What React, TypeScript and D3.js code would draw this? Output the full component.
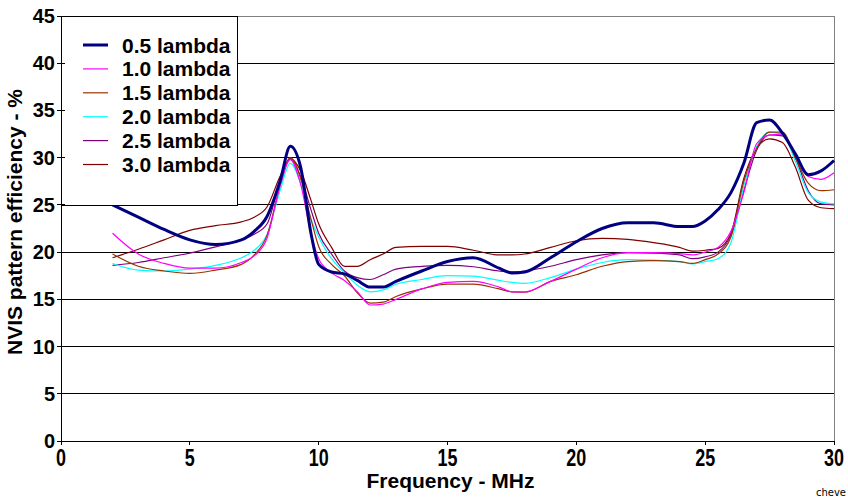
import React from 'react';
import * as d3 from 'd3';

const freqs = [2, 3, 4, 5, 6, 7, 7.5, 8, 8.5, 8.9, 9.3, 9.7, 10, 10.5, 11, 11.5, 12, 12.5, 13, 14, 15, 16, 17, 17.5, 18, 19, 20, 21, 22, 23, 24, 24.5, 25, 25.5, 26, 26.5, 27, 27.5, 28, 28.5, 29, 29.5, 30];

const lambda05 = [25.0, 23.7, 22.4, 21.3, 20.8, 21.3, 22.2, 23.8, 27.5, 31.2, 29.0, 22.0, 18.7, 17.9, 17.7, 17.0, 16.3, 16.3, 16.9, 18.0, 19.0, 19.4, 18.3, 17.8, 17.9, 19.4, 21.1, 22.5, 23.1, 23.1, 22.7, 22.7, 23.3, 24.5, 26.3, 29.4, 33.7, 34.0, 32.6, 30.4, 28.2, 28.6, 29.7];
const lambda10 = [22.0, 19.8, 18.8, 18.3, 18.3, 18.9, 19.6, 21.5, 27.0, 29.8, 27.2, 22.0, 19.3, 17.8, 17.0, 15.8, 14.4, 14.5, 15.0, 16.1, 16.8, 16.9, 16.3, 15.8, 15.8, 16.9, 18.2, 19.4, 19.95, 19.95, 19.85, 19.7, 20.0, 20.5, 22.2, 26.3, 31.5, 32.4, 32.5, 30.4, 28.0, 27.7, 28.4];
const lambda15 = [19.8, 18.5, 18.0, 17.75, 18.1, 18.7, 19.7, 21.8, 27.0, 30.0, 27.8, 23.5, 20.6, 18.7, 17.5, 15.7, 14.6, 14.7, 15.3, 16.1, 16.6, 16.6, 16.1, 15.8, 15.75, 16.9, 17.6, 18.5, 19.0, 19.1, 19.0, 18.8, 19.2, 19.8, 21.6, 27.5, 31.0, 32.7, 32.7, 30.0, 27.3, 26.5, 26.6];
const lambda20 = [18.8, 18.1, 18.0, 18.2, 18.6, 19.4, 20.2, 21.9, 26.5, 29.4, 27.3, 23.5, 21.6, 19.3, 17.8, 16.5, 15.8, 16.0, 16.6, 17.1, 17.5, 17.45, 17.0, 16.8, 16.7, 17.3, 18.2, 18.9, 19.2, 19.15, 19.0, 18.75, 19.0, 19.3, 21.0, 27.0, 31.2, 32.7, 32.5, 29.6, 26.3, 25.3, 25.1];
const lambda25 = [18.6, 18.9, 19.4, 19.9, 20.55, 21.3, 21.9, 23.0, 27.5, 29.9, 28.0, 24.5, 22.0, 19.8, 18.0, 17.3, 17.1, 17.6, 18.2, 18.5, 18.6, 18.45, 18.0, 17.9, 18.0, 18.5, 19.2, 19.7, 19.95, 19.9, 19.7, 19.3, 19.5, 20.0, 21.8, 26.5, 30.8, 32.4, 32.3, 30.0, 26.5, 25.1, 25.0];
const lambda30 = [19.4, 20.3, 21.3, 22.3, 22.8, 23.2, 23.7, 24.8, 28.0, 29.9, 28.6, 25.5, 23.0, 20.5, 18.5, 18.5, 19.2, 19.8, 20.5, 20.6, 20.6, 20.2, 19.7, 19.7, 19.8, 20.5, 21.2, 21.45, 21.35, 21.0, 20.5, 20.1, 20.2, 20.4, 22.0, 27.8, 31.0, 32.0, 31.6, 29.0, 25.5, 24.7, 24.6];

const seriesNames = ['0.5 lambda', '1.0 lambda', '1.5 lambda', '2.0 lambda', '2.5 lambda', '3.0 lambda'];
const seriesValues = [lambda05, lambda10, lambda15, lambda20, lambda25, lambda30];
const seriesColors = ['#000080', '#ff00ff', '#993300', '#00ffff', '#800080', '#800000'];

const xTicks = [0, 5, 10, 15, 20, 25, 30];
const yTicks = [0, 5, 10, 15, 20, 25, 30, 35, 40, 45];

const W = 848;
const H = 499;
const left = 61;
const right = 834;
const top = 16;
const bottom = 441;

const App = () => {
  const x = d3.scaleLinear().domain([0, 30]).range([left, right]);
  const y = d3.scaleLinear().domain([0, 45]).range([bottom, top]);
  const line = d3.line<[number, number]>()
    .x(d => x(d[0]))
    .y(d => y(d[1]))
    .curve(d3.curveMonotoneX);

  const font = 'Arial, "Liberation Sans", sans-serif';
  // draw thin series first, thick 0.5 lambda on top
  const order = [5, 4, 3, 2, 1, 0];

  return (
    <div style={{ position: 'absolute', left: 0, top: 0 }}>
      <svg width={W} height={H} style={{ display: 'block', background: '#fff' }} fontFamily={font}>
        {/* grid */}
        {yTicks.filter(t => t > 0).map(t => (
          <line key={t} x1={left} x2={right} y1={y(t)} y2={y(t)} stroke="#000" strokeWidth={1} shapeRendering="crispEdges" />
        ))}
        <line x1={left} x2={right} y1={top} y2={top} stroke="#808080" shapeRendering="crispEdges" />
        <line x1={right} x2={right} y1={top} y2={bottom} stroke="#808080" shapeRendering="crispEdges" />

        {/* series */}
        {order.map(i => (
          <path
            key={i}
            d={line(freqs.map((f, k) => [f, seriesValues[i][k]] as [number, number])) || ''}
            fill="none"
            stroke={seriesColors[i]}
            strokeWidth={i === 0 ? 3 : 1.2}
            strokeLinejoin="round"
          />
        ))}

        {/* legend */}
        <rect x={left} y={top} width={176} height={189} fill="#fff" stroke="#000" strokeWidth={1} shapeRendering="crispEdges" />
        {seriesNames.map((name, i) => {
          const cy = 45 + i * 23.9;
          return (
            <g key={name}>
              <line x1={83} x2={108} y1={cy} y2={cy} stroke={seriesColors[i]} strokeWidth={i === 0 ? 3 : 1.2} />
              <text x={122} y={cy + 7.5} fontSize={21} fontWeight="bold" fill="#000">{name}</text>
            </g>
          );
        })}

        {/* axes */}
        <line x1={left} x2={left} y1={top} y2={bottom + 4} stroke="#000" shapeRendering="crispEdges" />
        <line x1={left} x2={right} y1={bottom} y2={bottom} stroke="#000" shapeRendering="crispEdges" />
        {yTicks.map(t => (
          <g key={t}>
            <line x1={left - 4} x2={left + 4} y1={y(t)} y2={y(t)} stroke="#000" shapeRendering="crispEdges" />
            <text x={left - 6} y={y(t) + 7} textAnchor="end" fontSize={20} fontWeight="bold">{t}</text>
          </g>
        ))}
        {xTicks.map(t => (
          <g key={t}>
            <line x1={x(t)} x2={x(t)} y1={bottom} y2={bottom + 4} stroke="#000" shapeRendering="crispEdges" />
            <text
              transform={`translate(${x(t)},${466}) scale(0.78,1)`}
              textAnchor="middle"
              fontSize={23}
              fontWeight="bold"
            >{t}</text>
          </g>
        ))}

        {/* titles */}
        <text x={(left + right) / 2 + 3} y={488} textAnchor="middle" fontSize={21} fontWeight="bold">Frequency - MHz</text>
        <text transform={`translate(22,${222}) rotate(-90)`} textAnchor="middle" fontSize={21} fontWeight="bold">NVIS pattern efficiency - %</text>
        <text x={846} y={496} textAnchor="end" fontSize={10} fontFamily='"DejaVu Sans", sans-serif'>cheve</text>
      </svg>
    </div>
  );
};

export default App;
